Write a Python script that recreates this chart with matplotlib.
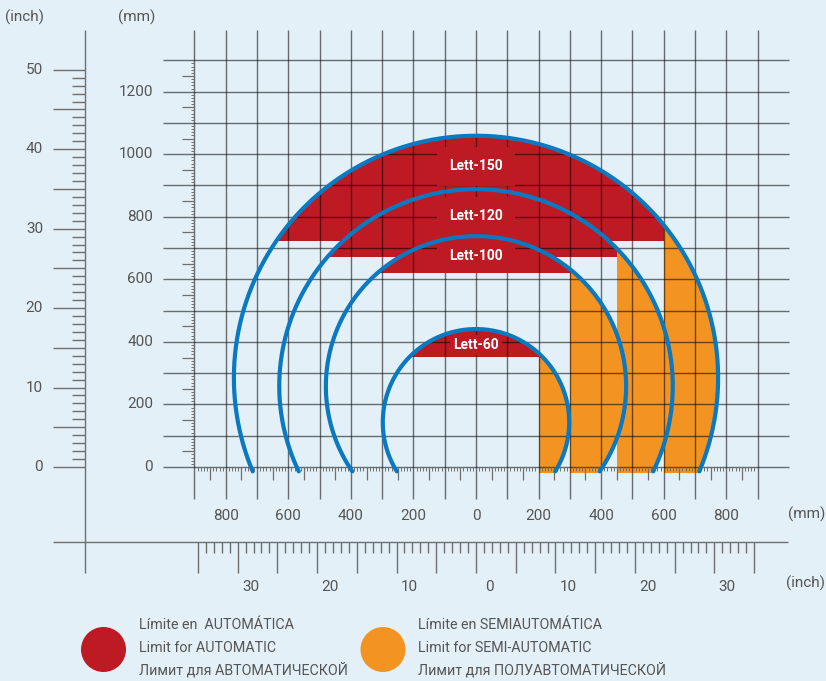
import numpy as np
import matplotlib
matplotlib.use('Agg')
import matplotlib.pyplot as plt
from matplotlib.patches import Circle, Rectangle

plt.rcParams['font.family'] = ['Roboto', 'DejaVu Sans']

# reach zones, all in mm
models = ['Lett-60', 'Lett-100', 'Lett-120', 'Lett-150']
radius_mm = [298, 480, 629, 774]
centre_y_mm = [143, 258, 259, 285]
auto_limit_y = [353, 621, 672, 723]     # red zone starts above this height
semi_limit_x = [200, 300, 450, 600]     # orange zone starts right of this
label_y = [390, 675, 801, 962]
label_pad = [0.25, 0.9, 0.9, 0.9]

mm_ticks_x = [-800, -600, -400, -200, 0, 200, 400, 600, 800]
mm_labels_x = ['800', '600', '400', '200', '0', '200', '400', '600', '800']
mm_ticks_y = [0, 200, 400, 600, 800, 1000, 1200]
inch_ticks_y = [0, 10, 20, 30, 40, 50]
inch_ticks_x = [-30, -20, -10, 0, 10, 20, 30]
inch_labels_x = ['30', '20', '10', '0', '10', '20', '30']

legend_auto = ['Límite en  AUTOMÁTICA', 'Limit for AUTOMATIC', 'Лимит для АВТОМАТИЧЕСКОЙ']
legend_semi = ['Límite en SEMIAUTOMÁTICA', 'Limit for SEMI-AUTOMATIC', 'Лимит для ПОЛУАВТОМАТИЧЕСКОЙ']

BG = '#e3f0f8'
RED = '#be1a24'
ORANGE = '#f39322'
BLUE = '#0a79c1'
TXT = '#555555'
AXC = '#6f6f6f'
INCH = 25.4
PX = 0.3128          # pixels per mm
ARC_END = -14
ORANGE_BOTTOM = -18
FS = 11
LEG_FS = 10.3


def px(n):
    # pixel distance -> mm
    return n / PX


fig = plt.figure(figsize=(8.26, 6.81), dpi=100, facecolor=BG)
ax = fig.add_axes([0, 0, 1, 1])
ax.set_facecolor(BG)
ax.set_xlim(px(-476), px(826 - 476))
ax.set_ylim(px(467 - 681), px(467))
ax.axis('off')

# zones
for r, c, yb, xs in zip(radius_mm, centre_y_mm, auto_limit_y, semi_limit_x):
    red = Circle((0, c), r, facecolor=RED, edgecolor='none', zorder=1)
    ax.add_patch(red)
    red.set_clip_path(Rectangle((-3000, yb), 3000 + xs, 3000, transform=ax.transData))
    orange = Circle((0, c), r, facecolor=ORANGE, edgecolor='none', zorder=1)
    ax.add_patch(orange)
    orange.set_clip_path(Rectangle((xs, ORANGE_BOTTOM), 3000, 3000, transform=ax.transData))

# mm grid
ax.hlines(np.arange(0, 1301, 100), -1000, 1000, color='black', alpha=0.55, lw=1.0, zorder=2)
ax.vlines(np.arange(-900, 901, 100), px(-32), px(437), color='black', alpha=0.55, lw=1.0, zorder=2)

# mm rulers
fine = np.arange(-900, 901, 10)
ax.vlines(fine[fine % 50 != 0], px(-4), 0, color=AXC, lw=0.7, zorder=2)
ax.vlines(fine[(fine % 50 == 0) & (fine % 100 != 0)], px(-13), 0, color=AXC, lw=0.9, zorder=2)
fine_y = np.arange(0, 1301, 10)
ax.hlines(fine_y[fine_y % 50 != 0], -900 - px(3), -900, color=AXC, lw=0.7, zorder=2)
ax.hlines(fine_y[(fine_y % 50 == 0) & (fine_y % 100 != 0)], -900 - px(12), -900, color=AXC, lw=0.9, zorder=2)

for x, lab in zip(mm_ticks_x, mm_labels_x):
    ax.text(x, px(-49), lab, color=TXT, fontsize=FS, ha='center', va='center')
for y in mm_ticks_y:
    ax.text(px(153 - 476), y, str(y), color=TXT, fontsize=FS, ha='right', va='center')
ax.text(px(137 - 476), px(467 - 17), '(mm)', color=TXT, fontsize=FS, ha='center', va='center')
ax.text(px(825 - 476), px(467 - 514), '(mm)', color=TXT, fontsize=FS, ha='right', va='center')

# inch scale, vertical
xi = px(85 - 476)
ax.vlines(xi, px(467 - 573), px(437), color=AXC, lw=1.0, zorder=2)
inch_v = np.arange(0, 51)
ax.hlines(inch_v[inch_v % 5 != 0] * INCH, xi - px(13), xi, color=AXC, lw=1.0)
ax.hlines(inch_v[inch_v % 5 == 0] * INCH, xi - px(32), xi, color=AXC, lw=1.0)
for i in inch_ticks_y:
    ax.text(px(43 - 476), i * INCH, str(i), color=TXT, fontsize=FS, ha='right', va='center')
ax.text(px(25 - 476), px(467 - 17), '(inch)', color=TXT, fontsize=FS, ha='center', va='center')

# inch scale, horizontal
yi = px(467 - 542)
ax.hlines(yi, px(53 - 476), px(788 - 476), color=AXC, lw=1.0)
inch_h = np.arange(-35, 36)
ax.vlines(inch_h[inch_h % 5 != 0] * INCH, yi - px(11), yi, color=AXC, lw=1.0)
ax.vlines(inch_h[inch_h % 5 == 0] * INCH, yi - px(31), yi, color=AXC, lw=1.0)
for i, lab in zip(inch_ticks_x, inch_labels_x):
    ax.text(i * INCH + px(13), px(467 - 587), lab, color=TXT, fontsize=FS, ha='center', va='center')
ax.text(px(825 - 476), px(467 - 583), '(inch)', color=TXT, fontsize=FS, ha='right', va='center')

# model labels
for name, ly, pad, yb, xs in zip(models, label_y, label_pad, auto_limit_y, semi_limit_x):
    t = ax.text(0, ly, name, color='white', fontsize=10, fontweight='bold',
                ha='center', va='center', zorder=3, clip_on=True,
                bbox=dict(boxstyle=f'square,pad={pad}', fc=RED, ec='none'))
    t.set_clip_path(Rectangle((-3000, yb), 3000 + xs, 3000, transform=ax.transData))

# reach arcs
for r, c in zip(radius_mm, centre_y_mm):
    t0 = np.arcsin((ARC_END - c) / r)
    th = np.linspace(t0, np.pi - t0, 500)
    ax.plot(r * np.cos(th), c + r * np.sin(th), color=BLUE, lw=3.0,
            solid_capstyle='round', zorder=4)

# legend
for cx, colour, lines in [(103.5, RED, legend_auto), (383, ORANGE, legend_semi)]:
    ax.add_patch(Circle((px(cx - 476), px(467 - 649.5)), px(22.5), facecolor=colour, edgecolor='none'))
    for k, line in enumerate(lines):
        ax.text(px(cx + 35.5 - 476), px(467 - 625 - 22.5 * k), line, color=TXT,
                fontsize=LEG_FS, ha='left', va='center')

fig.savefig('out.png', dpi=100, facecolor=BG)
